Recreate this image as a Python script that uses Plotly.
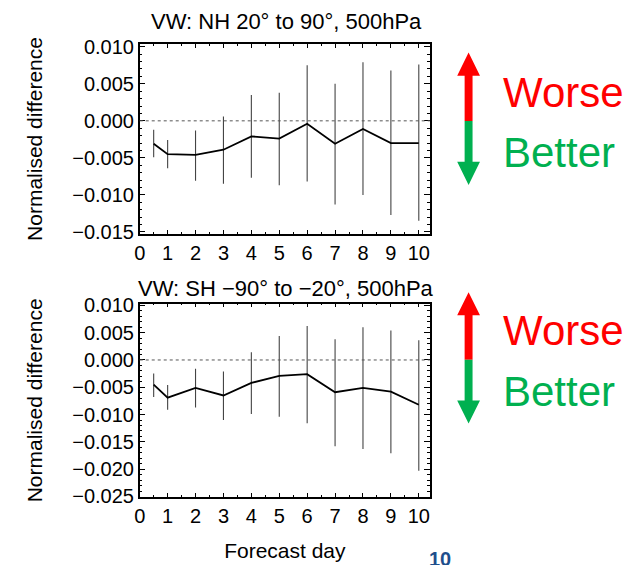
import plotly.graph_objects as go

# forecast days
days = [0.5, 1, 2, 3, 4, 5, 6, 7, 8, 9, 10]

# VW NH 20 to 90, 500hPa
nh_mean = [-0.0031, -0.0045, -0.0046, -0.0039, -0.0021, -0.0024, -0.0004, -0.0031, -0.0011, -0.0030, -0.0030]
nh_low = [-0.0049, -0.0064, -0.0081, -0.0085, -0.0077, -0.0087, -0.0082, -0.0113, -0.0100, -0.0127, -0.0135]
nh_high = [-0.0012, -0.0026, -0.0013, 0.0006, 0.0035, 0.0038, 0.0075, 0.0050, 0.0079, 0.0068, 0.0076]

# VW SH -90 to -20, 500hPa
sh_mean = [-0.0045, -0.0069, -0.0051, -0.0065, -0.0042, -0.0029, -0.0026, -0.0059, -0.0051, -0.0058, -0.0082]
sh_low = [-0.0068, -0.0091, -0.0087, -0.0110, -0.0099, -0.0104, -0.0116, -0.0158, -0.0163, -0.0171, -0.0203]
sh_high = [-0.0025, -0.0046, -0.0016, -0.0021, 0.0014, 0.0044, 0.0062, 0.0038, 0.0060, 0.0054, 0.0036]

nh_ticks = [0.010, 0.005, 0.000, -0.005, -0.010, -0.015]
sh_ticks = [0.010, 0.005, 0.000, -0.005, -0.010, -0.015, -0.020, -0.025]
day_ticks = list(range(0, 11))

W, H = 635, 565
FONT = "Liberation Sans"


def px(x):
    return x / W


def py(y):
    return 1 - y / H


def series(mean, low, high, xa, ya):
    return go.Scatter(
        x=days, y=mean, mode="lines", xaxis=xa, yaxis=ya,
        line=dict(color="black", width=1.8),
        error_y=dict(type="data", symmetric=False,
                     array=[h - m for h, m in zip(high, mean)],
                     arrayminus=[m - l for m, l in zip(mean, low)],
                     color="#444444", thickness=1.1, width=0),
        showlegend=False, hoverinfo="skip")


fig = go.Figure()
fig.add_trace(series(nh_mean, nh_low, nh_high, "x", "y"))
fig.add_trace(series(sh_mean, sh_low, sh_high, "x2", "y2"))

xdom = [px(135), px(428)]
common_x = dict(range=[0, 10.4], tickmode="array", tickvals=day_ticks,
                showline=True, linecolor="black", linewidth=1.5, mirror="allticks",
                ticks="inside", ticklen=4, tickcolor="black", showgrid=False, zeroline=False,
                minor=dict(dtick=0.5, ticks="inside", ticklen=2, tickcolor="black"),
                tickfont=dict(family=FONT, size=20, color="black"), domain=xdom)
common_y = dict(tickformat=".3f", tickmode="array",
                showline=True, linecolor="black", linewidth=1.5, mirror="allticks",
                ticks="inside", ticklen=6, tickcolor="black", showgrid=False, zeroline=False,
                minor=dict(dtick=0.001, ticks="inside", ticklen=3, tickcolor="black"),
                tickfont=dict(family=FONT, size=20, color="black"),
                title=dict(text="Normalised difference", standoff=24,
                           font=dict(family=FONT, size=21, color="black")))

fig.update_layout(
    width=W, height=H, margin=dict(l=0, r=0, t=0, b=0),
    paper_bgcolor="white", plot_bgcolor="white",
    xaxis=dict(common_x, anchor="y"),
    yaxis=dict(common_y, range=[-0.0153, 0.0104], tickvals=nh_ticks,
               domain=[py(233), py(36)], anchor="x"),
    xaxis2=dict(common_x, anchor="y2",
                title=dict(text="Forecast day", standoff=18,
                           font=dict(family=FONT, size=21, color="black"))),
    yaxis2=dict(common_y, range=[-0.0251, 0.0103], tickvals=sh_ticks,
                domain=[py(505), py(305)], anchor="x2"),
)

# dotted zero lines
for xr, yr in [("x domain", "y"), ("x2 domain", "y2")]:
    fig.add_shape(type="line", xref=xr, yref=yr, x0=0, x1=1, y0=0, y1=0,
                  line=dict(color="#555555", width=1, dash="dot"))


def label(x, y, text, size, color, xanchor="center"):
    fig.add_annotation(x=px(x), y=py(y), xref="paper", yref="paper", showarrow=False,
                       xanchor=xanchor, yanchor="middle", text=text,
                       font=dict(family=FONT, size=size, color=color))


# panel titles
label(283, 13, "VW: NH 20° to 90°, 500hPa", 22, "black")
label(283, 289, "VW: SH −90° to −20°, 500hPa", 22, "black")


# worse / better arrows
def arrow(top, mid, bot):
    cx, hw, sw, hh = 467, 11.5, 4, 24
    red = (f"M {px(cx)} {py(top)} L {px(cx + hw)} {py(top + hh)} L {px(cx + sw)} {py(top + hh)} "
           f"L {px(cx + sw)} {py(mid)} L {px(cx - sw)} {py(mid)} L {px(cx - sw)} {py(top + hh)} "
           f"L {px(cx - hw)} {py(top + hh)} Z")
    green = (f"M {px(cx)} {py(bot)} L {px(cx + hw)} {py(bot - hh)} L {px(cx + sw)} {py(bot - hh)} "
             f"L {px(cx + sw)} {py(mid)} L {px(cx - sw)} {py(mid)} L {px(cx - sw)} {py(bot - hh)} "
             f"L {px(cx - hw)} {py(bot - hh)} Z")
    fig.add_shape(type="path", xref="paper", yref="paper", path=red,
                  fillcolor="#FF0000", line=dict(width=0))
    fig.add_shape(type="path", xref="paper", yref="paper", path=green,
                  fillcolor="#00B050", line=dict(width=0))


arrow(45, 116, 182)
arrow(293, 363, 429)

for yw, yb in [(86, 148), (333, 396)]:
    label(500, yw, "Worse", 42, "#FF0000", "left")
    label(500, yb, "Better", 42, "#00B050", "left")

# page number, cut off at the bottom
label(438, 569, "<b>10</b>", 20, "#1F4E8C")

# drop the default body margin so the figure sits at the window corner
fig.write_html("out.html", config={"displayModeBar": False},
               post_script="document.body.style.margin = '0';")
